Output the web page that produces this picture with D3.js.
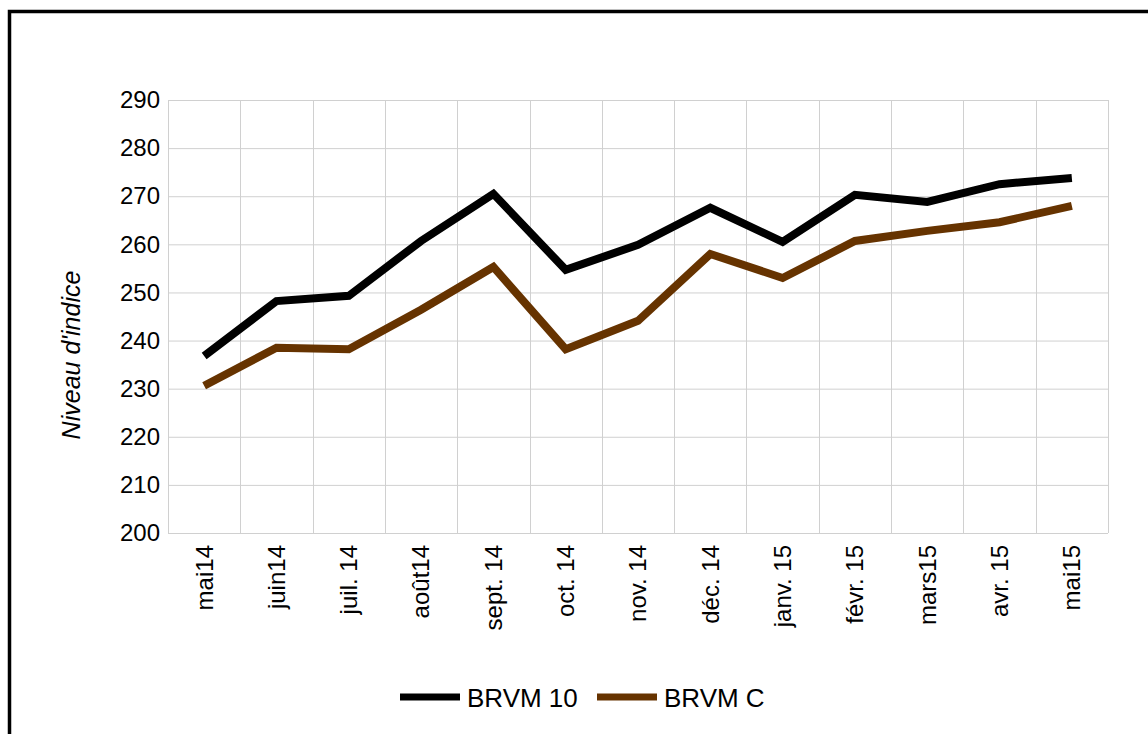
<!DOCTYPE html>
<html lang="fr">
<head>
<meta charset="utf-8">
<title>BRVM</title>
<script src="https://d3js.org/d3.v7.min.js"></script>
<style>
  body { margin: 0; background: #fff; }
  text { font-family: "Liberation Sans", Arial, sans-serif; }
</style>
</head>
<body>
<div id="chart"></div>
<script>
// data
let months = ["mai14", "juin14", "juil. 14", "août14", "sept. 14", "oct. 14", "nov. 14",
              "déc. 14", "janv. 15", "févr. 15", "mars15", "avr. 15", "mai15"];
let brvm10 = [236.8, 248.2, 249.3, 260.7, 270.5, 254.7, 259.9, 267.6, 260.5, 270.3, 268.8, 272.5, 273.8];
let brvmC = [230.6, 238.5, 238.2, 246.4, 255.3, 238.2, 244.1, 258.0, 253.0, 260.7, 262.8, 264.6, 268.0];
let yTicks = [200, 210, 220, 230, 240, 250, 260, 270, 280, 290];
let seriesNames = ["BRVM 10", "BRVM C"];
let colors = ["#000000", "#663300"];

let width = 1148, height = 734;
let margin = {top: 100, right: 40, bottom: 201, left: 168};
let innerW = width - margin.left - margin.right;
let innerH = height - margin.top - margin.bottom;

let svg = d3.select("#chart").append("svg")
    .attr("width", width)
    .attr("height", height);

// outer frame
svg.append("rect")
    .attr("x", 9.5).attr("y", 11.5)
    .attr("width", 1160).attr("height", 760)
    .attr("fill", "none")
    .attr("stroke", "#000")
    .attr("stroke-width", 3.5);

let g = svg.append("g")
    .attr("transform", "translate(" + margin.left + "," + margin.top + ")");

let x = d3.scaleBand().domain(months).range([0, innerW]);
let y = d3.scaleLinear().domain([200, 290]).range([innerH, 0]);

// horizontal grid
g.selectAll(".hgrid").data(yTicks).enter().append("line")
    .attr("x1", 0).attr("x2", innerW)
    .attr("y1", d => y(d) + 0.5).attr("y2", d => y(d) + 0.5)
    .attr("stroke", "#d0d0d0").attr("stroke-width", 1);

// vertical grid at band edges
let edges = months.map(m => x(m)).concat([innerW]);
g.selectAll(".vgrid").data(edges).enter().append("line")
    .attr("x1", d => Math.round(d) + 0.5).attr("x2", d => Math.round(d) + 0.5)
    .attr("y1", 0).attr("y2", innerH)
    .attr("stroke", "#d0d0d0").attr("stroke-width", 1);

// y axis labels
let yAxis = d3.axisLeft(y).tickValues(yTicks).tickSize(0).tickPadding(8);
let ya = g.append("g").call(yAxis);
ya.select(".domain").remove();
ya.selectAll("text").attr("font-size", 24).attr("fill", "#000");

// x axis labels, rotated
let xAxis = d3.axisBottom(x).tickSize(0).tickPadding(0);
let xa = g.append("g").attr("transform", "translate(0," + innerH + ")").call(xAxis);
xa.select(".domain").remove();
xa.selectAll("text")
    .attr("font-size", 24)
    .attr("fill", "#000")
    .attr("transform", "rotate(-90)")
    .attr("text-anchor", "end")
    .attr("x", -12)
    .attr("y", 0)
    .attr("dy", "0.35em");

// y title
svg.append("text")
    .attr("transform", "translate(80,355) rotate(-90)")
    .attr("text-anchor", "middle")
    .attr("font-size", 25)
    .attr("font-style", "italic")
    .text("Niveau d'indice");

// lines
let line = d3.line()
    .x((d, i) => x(months[i]) + x.bandwidth() / 2)
    .y(d => y(d));

[brvm10, brvmC].forEach(function(s, i) {
    g.append("path")
        .datum(s)
        .attr("d", line)
        .attr("fill", "none")
        .attr("stroke", colors[i])
        .attr("stroke-width", 8);
});

// legend
let legendX = [400, 597];
seriesNames.forEach(function(name, i) {
    svg.append("line")
        .attr("x1", legendX[i]).attr("x2", legendX[i] + 60)
        .attr("y1", 697).attr("y2", 697)
        .attr("stroke", colors[i]).attr("stroke-width", 7);
    svg.append("text")
        .attr("x", legendX[i] + 67).attr("y", 698)
        .attr("dy", "0.35em")
        .attr("font-size", 26)
        .text(name);
});
</script>
</body>
</html>
